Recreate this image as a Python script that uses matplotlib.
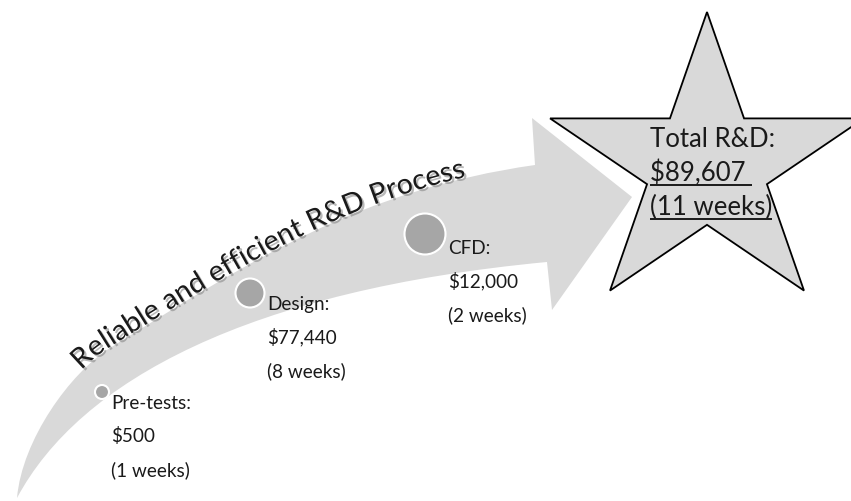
import numpy as np
import matplotlib
matplotlib.use("Agg")
import matplotlib.pyplot as plt
from matplotlib.path import Path
from matplotlib.patches import PathPatch, Circle, Polygon
from matplotlib.bezier import BezierSegment
from matplotlib import patheffects as pe
from matplotlib.font_manager import FontProperties, findfont, get_font
from matplotlib.textpath import text_to_path

# ---- data -------------------------------------------------------------
stages = ["Pre-tests", "Design", "CFD"]
stage_costs = [500, 77440, 12000]
stage_weeks = [1, 8, 2]
total_cost = 89607
total_weeks = 11
title = "Reliable and efficient R&D Process"

# ---- layout (pixel space) --------------------------------------------
W, H, DPI = 851, 501, 100
marker_xy = [(102, 392), (250, 293), (425, 234)]
marker_r = [7, 14.5, 20.5]
label_xy = [(111, 409), (267, 310), (448, 254)]
line_gap = 33.5

ARROW = "#d9d9d9"
DOT = "#a6a6a6"
TXT = "#1a1a1a"
FONT = "Lato"

fig = plt.figure(figsize=(W / DPI, H / DPI), dpi=DPI)
ax = fig.add_axes([0, 0, 1, 1])
ax.set_xlim(0, W)
ax.set_ylim(H, 0)
ax.axis("off")

# ---- curved arrow -----------------------------------------------------
# upper edge: two cubic pieces (sharp bend near the tail, gentle sweep after)
upper_a = np.array([(17, 498), (22, 440), (70, 373), (110, 348)], float)
upper_b = np.array([(110, 348), (250, 261), (360, 190), (535, 165)], float)
lower = np.array([(17, 498), (80, 380), (250, 290), (547, 262)], float)
head = [(532, 118), (632, 197), (552, 310)]

verts = ([tuple(p) for p in upper_a] + [tuple(p) for p in upper_b[1:]] + head +
         [tuple(p) for p in lower[::-1]])
codes = ([Path.MOVETO] + [Path.CURVE4] * 6 + [Path.LINETO] * 3 +
         [Path.LINETO] + [Path.CURVE4] * 3)
ax.add_patch(PathPatch(Path(verts, codes), facecolor=ARROW, edgecolor="none", zorder=1))

# ---- star ---------------------------------------------------------------
cx, cy, Rx, Ry, ratio = 707, 166, 165, 154, 0.382
k = np.arange(10)
ang = np.deg2rad(90 + 36 * k)
rad = np.where(k % 2 == 0, 1.0, ratio)
star = np.column_stack([cx + Rx * rad * np.cos(ang), cy - Ry * rad * np.sin(ang)])
ax.add_patch(Polygon(star, closed=True, facecolor="#d9d9d9", edgecolor="black",
                     linewidth=1.3, zorder=2))

# ---- stage markers and labels ------------------------------------------
for (mx, my), r in zip(marker_xy, marker_r):
    ax.add_patch(Circle((mx, my), r, facecolor=DOT, edgecolor="white",
                        linewidth=1.5, zorder=3))

lab_size = 13.6
for name, cost, wk, (lx, ly) in zip(stages, stage_costs, stage_weeks, label_xy):
    lines = [f"{name}:", f"${cost:,}", f"({wk} weeks)"]
    for i, s in enumerate(lines):
        ax.text(lx, ly + i * line_gap, s, fontsize=lab_size, family=FONT,
                color=TXT, ha="left", va="baseline", parse_math=False, zorder=4)

# ---- star text ------------------------------------------------------------
star_size = 18.5
star_lines = ["Total R&D:", f"${total_cost:,} ", f"({total_weeks} weeks)"]
star_base = [147, 181, 215]
star_texts = []
for s, yb in zip(star_lines, star_base):
    star_texts.append(ax.text(650, yb, s, fontsize=star_size, family=FONT, color=TXT,
                              ha="left", va="baseline", parse_math=False, zorder=4))

# ---- title along the upper edge of the arrow ----------------------------
title_size = 20.5
fp = FontProperties(family=FONT, size=title_size)
font = get_font(findfont(fp))
font.set_size(title_size, DPI)
raw = np.array([font.load_char(ord(c)).linearHoriAdvance for c in title], float)
total_px = text_to_path.get_text_width_height_descent(title, fp, ismath=False)[0] * DPI / 72
adv = raw * total_px / raw.sum()

tt = np.linspace(0, 1, 3001)
pts = np.vstack([BezierSegment(upper_a)(tt), BezierSegment(upper_b)(tt)[1:]])
arc = np.concatenate([[0], np.cumsum(np.hypot(*np.diff(pts, axis=0).T))])
der = np.gradient(pts, axis=0)

s0 = np.interp(82, pts[:, 0], arc)
left = np.concatenate([[0], np.cumsum(adv)[:-1]])
shadow = [pe.SimplePatchShadow(offset=(1.6, -1.6), shadow_rgbFace="#808080", alpha=0.55),
          pe.Normal()]
for ch, l, a in zip(title, left, adv):
    if ch == " ":
        continue
    s = s0 + l + a / 2
    x = np.interp(s, arc, pts[:, 0])
    y = np.interp(s, arc, pts[:, 1])
    dx = np.interp(s, arc, der[:, 0])
    dy = np.interp(s, arc, der[:, 1])
    n = np.hypot(dx, dy)
    nx, ny = dy / n, -dx / n
    off = 1.0
    rot = np.degrees(np.arctan2(-dy, dx))
    ax.text(x + nx * off, y + ny * off, ch, fontproperties=fp, color=TXT,
            rotation=rot, rotation_mode="anchor", ha="center", va="baseline",
            parse_math=False, zorder=5, path_effects=shadow)

# ---- underline the totals -------------------------------------------------
fig.canvas.draw()
renderer = fig.canvas.get_renderer()
inv = ax.transData.inverted()
for t in star_texts[1:]:
    bb = t.get_window_extent(renderer)
    (x0, _), (x1, _) = inv.transform([[bb.x0, bb.y0], [bb.x1, bb.y1]])
    yb = t.get_position()[1] + 3.5
    ax.plot([x0, x1], [yb, yb], color=TXT, linewidth=1.4, zorder=4,
            solid_capstyle="butt")

fig.savefig("out.png", dpi=DPI)
